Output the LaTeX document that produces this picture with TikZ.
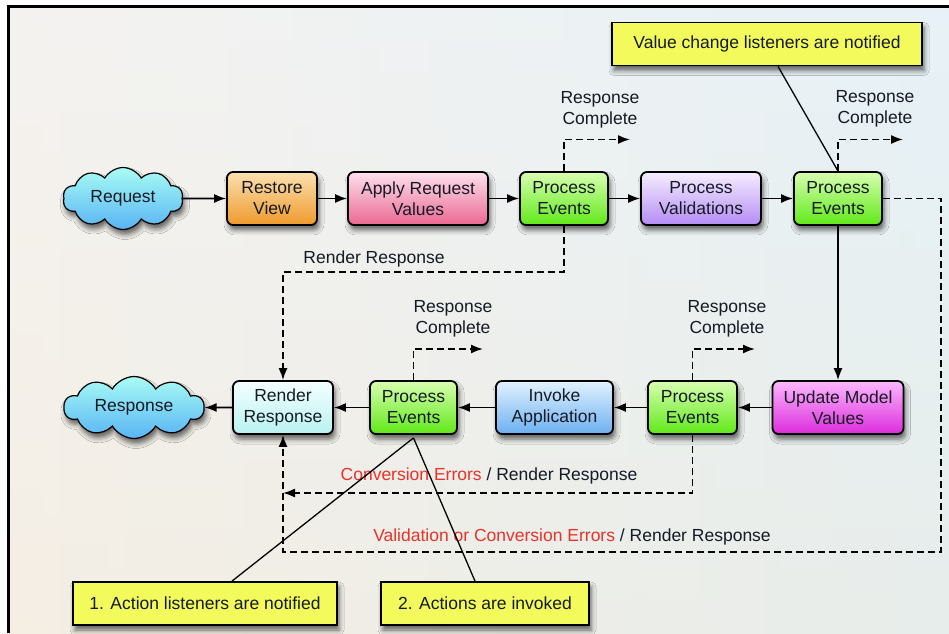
\documentclass[tikz,border=0pt]{standalone}
\usepackage{fontspec}
\setmainfont{Liberation Sans}
\usetikzlibrary{shapes.symbols,shadows.blur,arrows.meta}

\definecolor{bgleft}{HTML}{F8EEE6}
\definecolor{bgright}{HTML}{DCECF4}
\definecolor{bgtop}{HTML}{F2F7FA}
\definecolor{bgbottom}{HTML}{F2EEE2}
\definecolor{errred}{HTML}{E8322A}
\definecolor{notefill}{HTML}{F2FA5C}
\definecolor{cloudtop}{HTML}{A8FCF4}
\definecolor{cloudbot}{HTML}{58B4F4}
\definecolor{rvtop}{HTML}{FBE0B0}
\definecolor{rvbot}{HTML}{EE9A2C}
\definecolor{arvtop}{HTML}{FDE0EC}
\definecolor{arvbot}{HTML}{EA6892}
\definecolor{petop}{HTML}{D8FFB0}
\definecolor{pebot}{HTML}{60E818}
\definecolor{pvtop}{HTML}{F6EEFF}
\definecolor{pvbot}{HTML}{B48CF4}
\definecolor{rrtop}{HTML}{F4FFFF}
\definecolor{rrbot}{HTML}{B8F2F0}
\definecolor{iatop}{HTML}{E2F2FF}
\definecolor{iabot}{HTML}{6CB0F0}
\definecolor{umvtop}{HTML}{FCB8FC}
\definecolor{umvbot}{HTML}{DC2CDC}
\definecolor{inktext}{HTML}{151A24}

\begin{document}
\begin{tikzpicture}[x=1pt,y=1pt,
  font=\fontsize{17.5}{21}\selectfont, text=inktext,
  shadowed/.style={blur shadow={shadow xshift=2pt, shadow yshift=-5pt,
      shadow blur radius=5pt, shadow opacity=60}},
  phase/.style={draw=black, line width=1.8pt, rounded corners=6pt,
      align=center, minimum height=53pt, inner sep=2pt, shadowed},
  shaded2/.style 2 args={top color=#1, bottom color=#2},
  cloudnode/.style={cloud, cloud puffs=10, cloud puff arc=120, cloud ignores aspect,
      draw=black, line width=1.2pt, inner sep=0pt, shadowed,
      top color=cloudtop, bottom color=cloudbot},
  note/.style={draw=black, line width=1.8pt, fill=notefill, align=center,
      minimum height=43pt, inner sep=2pt, shadowed},
  arr/.style={line width=1.6pt, -{Latex[length=12pt,width=9pt]}},
  darr/.style={line width=1.6pt, dash pattern=on 7pt off 4pt,
      -{Latex[length=12pt,width=9pt]}},
  lbl/.style={inner sep=1pt, align=center}
]
\useasboundingbox (0,0) rectangle (949,633);

% background panel with a soft sky gradient
\fill[white] (0,0) rectangle (949,633);
\shade[left color=bgleft, right color=bgright] (8,0) rectangle (949,626.5);
\shade[top color=bgtop, bottom color=bgbottom, opacity=0.5] (8,0) rectangle (949,626.5);
\draw[line width=2.4pt] (8.5,0) -- (8.5,626.5) -- (949,626.5);

% upper row of phases
\node[cloudnode, minimum width=120pt, minimum height=62pt] (req) at (123,434.5) {Request};
\node[phase, minimum width=90pt, shaded2={rvtop}{rvbot}] (rv) at (272,434.5) {Restore\\View};
\node[phase, minimum width=140pt, shaded2={arvtop}{arvbot}] (arv) at (418,434.5) {Apply Request\\Values};
\node[phase, minimum width=88pt, shaded2={petop}{pebot}] (pe1) at (564,434.5) {Process\\Events};
\node[phase, minimum width=120pt, shaded2={pvtop}{pvbot}] (pv) at (701,434.5) {Process\\Validations};
\node[phase, minimum width=88pt, shaded2={petop}{pebot}] (pe2) at (838,434.5) {Process\\Events};

% lower row of phases
\node[cloudnode, minimum width=140pt, minimum height=62pt] (resp) at (134,225.5) {Response};
\node[phase, minimum width=100pt, shaded2={rrtop}{rrbot}] (rr) at (283,225.5) {Render\\Response};
\node[phase, minimum width=87pt, shaded2={petop}{pebot}] (pe3) at (413.5,225.5) {Process\\Events};
\node[phase, minimum width=117pt, shaded2={iatop}{iabot}] (ia) at (554.5,225.5) {Invoke\\Application};
\node[phase, minimum width=89pt, shaded2={petop}{pebot}] (pe4) at (692.5,225.5) {Process\\Events};
\node[phase, minimum width=131pt, shaded2={umvtop}{umvbot}] (umv) at (838,225.5) {Update Model\\Values};

% notes
\node[note, minimum width=310pt] (n1) at (767,589) {Value change listeners are notified};
\node[note, minimum width=264pt] (n2) at (205,29.5) {1. Action listeners are notified};
\node[note, minimum width=208pt] (n3) at (485,29.5) {2. Actions are invoked};

% main flow
\draw[arr] (req.east) -- (rv.west);
\draw[arr] (rv) -- (arv);
\draw[arr] (arv) -- (pe1);
\draw[arr] (pe1) -- (pv);
\draw[arr] (pv) -- (pe2);
\draw[arr] (pe2.south) -- (umv.north);
\draw[arr] (umv) -- (pe4);
\draw[arr] (pe4) -- (ia);
\draw[arr] (ia) -- (pe3);
\draw[arr] (pe3) -- (rr);
\draw[arr] (rr.west) -- (resp.east);

% response complete exits
\coordinate (rc1) at (630,493.5);
\coordinate (rc2) at (903,493.5);
\coordinate (rc3) at (483,284);
\coordinate (rc4) at (755,284);
\draw[darr] (pe1.north) |- (rc1);
\draw[darr] (pe2.north) |- (rc2);
\draw[darr] (pe3.north) |- (rc3);
\draw[darr] (pe4.north) |- (rc4);
\node[lbl] (l1) at (600,523.5) {Response\\Complete};
\node[lbl] (l2) at (875,524.5) {Response\\Complete};
\node[lbl] (l3) at (453,314) {Response\\Complete};
\node[lbl] (l4) at (727,314) {Response\\Complete};

% render response shortcuts
\coordinate (c1) at (283,361);
\draw[darr] (pe1.south) |- (c1) -- (rr.north);
\node[lbl] (l5) at (374,374) {Render Response};

\coordinate (c2) at (283,140);
\draw[darr] (pe4.south) |- (c2);
\node[lbl] (l6) at (489,157) {\textcolor{errred}{Conversion Errors} / Render Response};

\coordinate (c3) at (941,434.5);
\coordinate (c4) at (283,81);
\draw[darr] (pe2.east) -- (c3) |- (c4) -- (rr.south);
\node[lbl] (l7) at (572,96) {\textcolor{errred}{Validation or Conversion Errors} / Render Response};

% note pointers
\draw[line width=1.3pt] ([xshift=11pt]n1.south) -- (pe2.north);
\draw[line width=1.3pt] ([xshift=27pt]n2.north) -- ([yshift=-3pt]pe3.south);
\draw[line width=1.3pt] ([xshift=-10pt]n3.north) -- ([yshift=-3pt]pe3.south);
\end{tikzpicture}
\end{document}
